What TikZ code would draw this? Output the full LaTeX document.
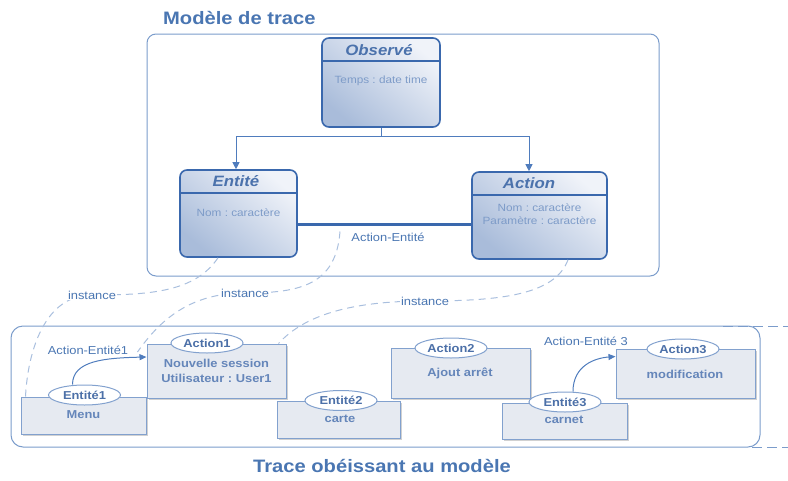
\documentclass[tikz,border=0pt]{standalone}
\usepackage{fontspec}
\setmainfont{Liberation Sans}[FakeStretch=1.12]
\usetikzlibrary{arrows.meta,shadows,calc,shapes.geometric}
\definecolor{titleblue}{HTML}{4A76B2}
\definecolor{classborder}{HTML}{3A68AD}
\definecolor{classtext}{HTML}{7D9BC8}
\definecolor{classname}{HTML}{4B72AC}
\definecolor{linkblue}{HTML}{4F7CBD}
\definecolor{contborder}{HTML}{7B9CCB}
\definecolor{boxfill}{HTML}{E6EAF1}
\definecolor{boxborder}{HTML}{82A1CE}
\definecolor{boxtext}{HTML}{6586BA}
\definecolor{elltext}{HTML}{4C70A8}
\definecolor{instline}{HTML}{A9BFDE}
\definecolor{shadelight}{HTML}{F0F3F9}
\definecolor{shadedark}{HTML}{A9BCDA}
\frenchspacing
\begin{document}
\begin{tikzpicture}[x=1pt,y=-1pt,
  container/.style={draw=contborder, line width=1pt, rounded corners=9pt},
  classbox/.style={draw=classborder, line width=1.6pt, rounded corners=7pt,
    top color=shadelight, bottom color=shadedark, shading angle=-40, inner sep=0pt},
  classname/.style={font=\fontsize{15}{17}\selectfont\bfseries\itshape, text=classname, inner sep=0pt},
  classattr/.style={font=\fontsize{10.5}{12.5}\selectfont, text=classtext, align=center, inner sep=0pt},
  header/.style={draw=classborder, line width=1.6pt},
  gen/.style={draw=linkblue, line width=1pt, -{Triangle[width=7pt,length=7pt]}},
  genline/.style={draw=linkblue, line width=1pt},
  assoc/.style={draw=classborder, line width=3pt},
  lbl/.style={font=\fontsize{11.5}{13}\selectfont, text=titleblue, inner sep=1pt},
  inst/.style={draw=instline, line width=1pt, dash pattern=on 7pt off 5pt},
  instlabel/.style={font=\fontsize{11.5}{13}\selectfont, text=titleblue, fill=white, inner sep=1pt},
  objbox/.style={draw=boxborder, line width=1pt, fill=boxfill, inner sep=0pt,
    drop shadow={shadow xshift=1.5pt, shadow yshift=-1.5pt, opacity=0.3, fill=black!60}},
  objtext/.style={font=\fontsize{11.5}{15}\selectfont\bfseries, text=boxtext, align=center, inner sep=0pt},
  objname/.style={ellipse, draw=boxborder, line width=1pt, fill=white, minimum width=72pt, minimum height=20pt,
    inner sep=0pt, font=\fontsize{11.5}{13}\selectfont\bfseries, text=elltext},
  bigtitle/.style={font=\fontsize{18}{20}\selectfont\bfseries, text=titleblue, inner sep=0pt},
  rel/.style={draw=linkblue, line width=1pt, -{Triangle[width=6pt,length=7pt]}}
]
\useasboundingbox (0,0) rectangle (788,480);

% ---------- model ----------
\node[bigtitle, anchor=west] (t1) at (163,18) {Modèle de trace};
\draw[container] (147,34) rectangle (659,276);

\node[classbox, minimum width=118pt, minimum height=89pt] (obs) at (381,82.5) {};
\draw[header] ([yshift=-24]obs.north west) -- ([yshift=-24]obs.north east);
\node[classname] (obsN) at ([xshift=-2,yshift=-12.5]obs.north) {Observé};
\node[classattr] (obsA) at ([yshift=-44]obs.north) {Temps : date time};

\node[classbox, minimum width=117pt, minimum height=87pt] (ent) at (238.5,213.5) {};
\draw[header] ([yshift=-24]ent.north west) -- ([yshift=-24]ent.north east);
\node[classname] (entN) at ([xshift=-2.5,yshift=-12]ent.north) {Entité};
\node[classattr] (entA) at ([yshift=-43]ent.north) {Nom : caractère};

\node[classbox, minimum width=135pt, minimum height=87pt] (act) at (539.5,215.5) {};
\draw[header] ([yshift=-24]act.north west) -- ([yshift=-24]act.north east);
\node[classname] (actN) at ([xshift=-10.5,yshift=-11.5]act.north) {Action};
\node[classattr] (actA) at ([yshift=-43]act.north) {Nom : caractère\\Paramètre : caractère};

\coordinate (split) at ([yshift=-9]obs.south);
\draw[genline] (obs.south) -- (split);
\draw[gen] (split) -| ([xshift=-2.5]ent.north);
\draw[gen] (split) -| ([xshift=-10.5]act.north);

\draw[assoc] ([yshift=-10.5]ent.east) -- ([yshift=-10.5]ent.east -| act.west);
\node[lbl] (ae) at (388,237) {Action-Entité};

% ---------- trace ----------
\draw[container, rounded corners=12pt] (11,326) rectangle (760,447);
\draw[contborder, line width=1pt, dash pattern=on 10pt off 5pt] (723,326) -- (788,326);
\draw[contborder, line width=1pt, dash pattern=on 10pt off 5pt] (752,447) -- (788,447);
\node[bigtitle] (t2) at (382,466) {Trace obéissant au modèle};

\node[objbox, minimum width=125pt, minimum height=37pt] (e1) at (83.5,415.5) {};
\node[objtext] (e1t) at (83.5,415) {Menu};
\node[objname] (e1n) at (84.5,395) {Entité1};

\node[objbox, minimum width=139pt, minimum height=54pt] (a1) at (216.5,371) {};
\node[objtext] (a1t) at (216.5,371) {Nouvelle session\\Utilisateur : User1};
\node[objname] (a1n) at (207,343) {Action1};

\node[objbox, minimum width=123pt, minimum height=37pt] (e2) at (338.5,419.5) {};
\node[objtext] (e2t) at (340,419) {carte};
\node[objname] (e2n) at (341,400.5) {Entité2};

\node[objbox, minimum width=139pt, minimum height=50pt] (a2) at (460.5,373) {};
\node[objtext] (a2t) at (460,373) {Ajout arrêt};
\node[objname] (a2n) at (451,348) {Action2};

\node[objbox, minimum width=125pt, minimum height=36pt] (e3) at (564.5,421) {};
\node[objtext] (e3t) at (564,420) {carnet};
\node[objname] (e3n) at (565,402) {Entité3};

\node[objbox, minimum width=139pt, minimum height=49pt] (a3) at (685.5,373.5) {};
\node[objtext] (a3t) at (685,374) {modification};
\node[objname] (a3n) at (683,349) {Action3};

\draw[rel] ([xshift=-12]e1n.north) .. controls ([xshift=-12,yshift=24]e1n.north) and (105,358) .. ([yshift=14]a1.west);
\node[lbl] (ae1) at (88,350) {Action-Entité1};

\draw[rel] ([xshift=8]e3n.north) .. controls ([xshift=8,yshift=26]e3n.north) and (595,358) .. ([yshift=17]a3.west);
\node[lbl] (ae3) at (586,341) {Action-Entité 3};

% ---------- instance links ----------
\coordinate (i1) at (92,295);
\coordinate (i2) at (245,293);
\coordinate (i3) at (425,301);
\draw[inst] ([xshift=-20.5]ent.south) .. controls (195,292) and (150,295) .. (i1)
  .. controls (45,295) and (28,350) .. ([xshift=5]e1.north west);
\draw[inst] (ae.north -| 340,0) .. controls (336,285) and (300,293) .. (i2)
  .. controls (190,293) and (160,320) .. ([xshift=-9,yshift=19]a1.west);
\draw[inst] ([xshift=28.5]act.south) .. controls (555,295) and (500,301) .. (i3)
  .. controls (340,301) and (300,320) .. ([xshift=-8]a1.north east);
\node[instlabel] (in1) at (i1) {instance};
\node[instlabel] (in2) at (i2) {instance};
\node[instlabel] (in3) at (i3) {instance};
\end{tikzpicture}
\end{document}
